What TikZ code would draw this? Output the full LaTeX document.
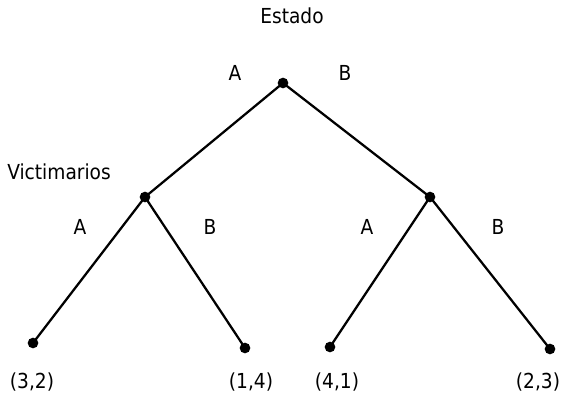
\documentclass[tikz,border=0pt]{standalone}
\usepackage{fontspec}
\setmainfont{DejaVu Sans Condensed}
\begin{document}
\begin{tikzpicture}[x=0.75pt,y=-0.75pt,
  branch/.style={line width=1.7pt},
  lbl/.style={font=\fontsize{15.5}{18}\selectfont, inner sep=0pt, anchor=base}]
\useasboundingbox (0,0) rectangle (568,397);
% decision points
\coordinate (est) at (283,83);
\coordinate (vicL) at (145,197);
\coordinate (vicR) at (430,197);
\coordinate (outAA) at (33,343);
\coordinate (outAB) at (245,348);
\coordinate (outBA) at (330,347);
\coordinate (outBB) at (550,349);
% branches
\draw[branch] (est) -- (vicL);
\draw[branch] (est) -- (vicR);
\draw[branch] (vicL) -- (outAA);
\draw[branch] (vicL) -- (outAB);
\draw[branch] (vicR) -- (outBA);
\draw[branch] (vicR) -- (outBB);
\foreach \p in {est,vicL,vicR,outAA,outAB,outBA,outBB}
  \fill (\p) circle(4pt);
% players and moves
\node[lbl] (estado) at (292,23) {Estado};
\node[lbl] (mvA) at (235,80) {A};
\node[lbl] (mvB) at (345,80) {B};
\node[lbl] (victim) at (59,179) {Victimarios};
\node[lbl] (mvLA) at (80,234) {A};
\node[lbl] (mvLB) at (210,234) {B};
\node[lbl] (mvRA) at (367,234) {A};
\node[lbl] (mvRB) at (498,234) {B};
% payoffs
\node[lbl] (payAA) at (32,388) {(3,2)};
\node[lbl] (payAB) at (251,388) {(1,4)};
\node[lbl] (payBA) at (337,388) {(4,1)};
\node[lbl] (payBB) at (538,388) {(2,3)};
\end{tikzpicture}
\end{document}
